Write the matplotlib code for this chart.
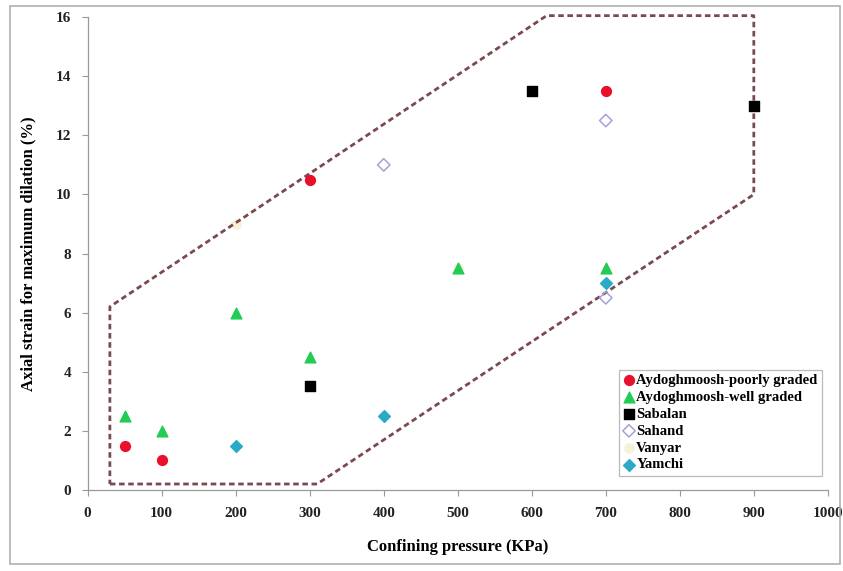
import matplotlib.pyplot as plt
from matplotlib.patches import Rectangle

# data
poor_x = [50, 100, 300, 700]
poor_y = [1.5, 1.0, 10.5, 13.5]
well_x = [50, 100, 200, 300, 500, 700]
well_y = [2.5, 2.0, 6.0, 4.5, 7.5, 7.5]
sabalan_x = [300, 600, 900]
sabalan_y = [3.5, 13.5, 13.0]
sahand_x = [400, 700, 700]
sahand_y = [11.0, 12.5, 6.5]
vanyar_x = [200, 500, 700]
vanyar_y = [9.0, 7.5, 7.0]
yamchi_x = [200, 400, 700]
yamchi_y = [1.5, 2.5, 7.0]

# dashed envelope
env_x = [30, 310, 900, 900, 620, 30, 30]
env_y = [0.2, 0.2, 10.0, 16.05, 16.05, 6.2, 0.2]

plt.rcParams['font.family'] = ['Liberation Serif', 'DejaVu Serif']
plt.rcParams['font.weight'] = 'bold'

fig = plt.figure(figsize=(8.43, 5.71), dpi=100)
ax = fig.add_axes([0.104, 0.142, 0.878, 0.828])

fig.patches.append(Rectangle((0.012, 0.012), 0.984, 0.978, transform=fig.transFigure,
                             fill=False, edgecolor='#b0b0b0', linewidth=1.2))

ax.plot(env_x, env_y, linestyle=(0, (2, 1.3)), color='#7a4a50', linewidth=2.0,
        zorder=2, clip_on=False)

ax.scatter(poor_x, poor_y, marker='o', s=50, color='#e8102a', label='Aydoghmoosh-poorly graded', zorder=3)
ax.scatter(well_x, well_y, marker='^', s=60, color='#22cc55', label='Aydoghmoosh-well graded', zorder=3)
ax.scatter(sabalan_x, sabalan_y, marker='s', s=45, color='black', label='Sabalan', zorder=3)
ax.scatter(sahand_x, sahand_y, marker='D', s=40, facecolor='none', edgecolor='#a8a0d8',
           linewidth=1.1, label='Sahand', zorder=3)
ax.scatter(vanyar_x, vanyar_y, marker='o', s=45, color='#f6f2d8', label='Vanyar', zorder=1)
ax.scatter(yamchi_x, yamchi_y, marker='D', s=36, color='#2aaac8', label='Yamchi', zorder=3)

ax.set_xlim(0, 1000)
ax.set_ylim(0, 16)
ax.set_xticks(range(0, 1001, 100))
ax.set_yticks(range(0, 17, 2))
ax.tick_params(labelsize=11, colors='#222222', length=4, color='#999999', width=0.8, pad=8)
for lab in ax.get_xticklabels() + ax.get_yticklabels():
    lab.set_fontweight('bold')

for s in ['top', 'right']:
    ax.spines[s].set_visible(False)
for s in ['left', 'bottom']:
    ax.spines[s].set_color('#999999')
    ax.spines[s].set_linewidth(0.9)

ax.set_xlabel('Confining pressure (KPa)', fontsize=12, fontweight='bold', labelpad=14)
ax.set_ylabel('Axial strain for maximum dilation (%)', fontsize=12, fontweight='bold', labelpad=14)

leg = ax.legend(loc='lower right', bbox_to_anchor=(0.992, 0.03), fontsize=10.5,
                frameon=True, fancybox=False, edgecolor='#aaaaaa', handletextpad=0.1,
                handlelength=0.8, borderpad=0.3, labelspacing=0.25, borderaxespad=0)
leg.get_frame().set_linewidth(0.9)
for t in leg.get_texts():
    t.set_fontweight('bold')

fig.savefig('out.png', dpi=100)
